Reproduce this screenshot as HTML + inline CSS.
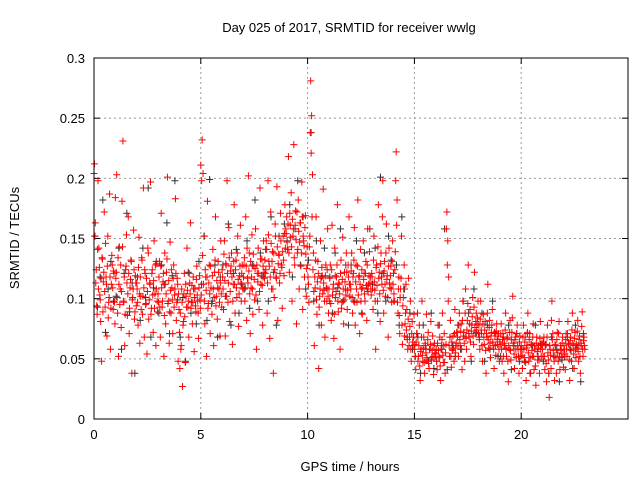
<!DOCTYPE html>
<html><head><meta charset="utf-8"><style>
body{margin:0;background:#fff}
svg{display:block;font-family:"Liberation Sans",sans-serif}
</style></head><body>
<svg id="chart" width="640" height="480">
<text x="349" y="32" font-size="13" text-anchor="middle">Day 025 of 2017, SRMTID for receiver wwlg</text>
<text x="350" y="471" font-size="13" text-anchor="middle">GPS time / hours</text>
<text x="19" y="238" font-size="13" text-anchor="middle" transform="rotate(-90 19 238)">SRMTID / TECUs</text>
<g id="grid"></g><g id="ticks"></g><g id="black"></g><g id="red"></g>
<rect x="94" y="58" width="534" height="361" fill="none" stroke="#000" stroke-width="1"/>
</svg>
<script>
const xTicks=[0,5,10,15,20];
const yTicks=[0,0.05,0.1,0.15,0.2,0.25,0.3];
const yTickLabels=["0","0.05","0.1","0.15","0.2","0.25","0.3"];
const redByHour=[
[.212,.163,.124,.087,.198,.142,.103,.081,.048,.133,.114,.172,.093,.118,.069,.152,.097,.187,.058,.112,.128,.091,.121,.079],
[.117,.203,.088,.052,.143,.108,.076,.181,.231,.097,.061,.124,.153,.086,.168,.071,.109,.132,.038,.101,.157,.083,.119,.094],
[.108,.078,.151,.063,.102,.134,.087,.192,.068,.121,.096,.054,.142,.083,.113,.197,.092,.124,.072,.148,.104,.061,.129,.089],
[.097,.131,.068,.171,.093,.114,.052,.138,.079,.122,.201,.098,.063,.147,.088,.109,.071,.128,.103,.183,.082,.117,.048,.091],
[.042,.058,.108,.027,.081,.121,.047,.102,.142,.093,.068,.113,.163,.097,.079,.118,.056,.108,.089,.127,.098,.067,.119,.092],
[.103,.232,.204,.152,.079,.118,.052,.181,.096,.128,.071,.109,.087,.141,.061,.122,.168,.102,.083,.131,.108,.069,.148,.093],
[.118,.091,.148,.069,.128,.198,.097,.159,.081,.123,.138,.062,.112,.178,.088,.132,.101,.152,.077,.119,.161,.098,.128,.108],
[.128,.098,.168,.082,.117,.202,.138,.071,.109,.153,.087,.127,.099,.158,.058,.121,.142,.091,.192,.112,.133,.078,.148,.117],
[.121,.148,.088,.198,.131,.067,.172,.108,.139,.038,.101,.162,.118,.193,.082,.137,.113,.171,.128,.092,.152,.119,.178,.158],
[.168,.141,.218,.122,.161,.188,.098,.152,.228,.128,.173,.079,.138,.182,.108,.163,.127,.197,.091,.148,.118,.169,.102,.143],
[.118,.097,.152,.281,.252,.203,.138,.061,.109,.168,.087,.131,.042,.102,.148,.078,.119,.191,.107,.068,.128,.098,.158,.088],
[.098,.128,.082,.161,.108,.067,.142,.101,.118,.178,.089,.112,.058,.132,.097,.151,.079,.122,.108,.138,.091,.128,.168,.102],
[.108,.138,.088,.121,.159,.078,.128,.097,.182,.118,.071,.141,.108,.087,.148,.121,.098,.131,.082,.158,.112,.139,.118,.103],
[.118,.091,.152,.107,.058,.128,.098,.178,.122,.081,.138,.112,.198,.088,.131,.102,.162,.119,.068,.142,.109,.127,.097,.148],
[.121,.098,.139,.222,.182,.088,.118,.071,.108,.152,.062,.101,.128,.079,.112,.091,.058,.117,.068,.098,.048,.081,.061,.087],
[.062,.041,.071,.088,.052,.078,.032,.058,.098,.048,.068,.038,.061,.087,.049,.072,.042,.058,.081,.051,.069,.037,.063,.052],
[.058,.041,.078,.052,.068,.032,.061,.088,.047,.071,.038,.062,.172,.148,.118,.052,.082,.043,.058,.069,.048,.091,.061,.072],
[.068,.052,.088,.061,.079,.041,.098,.072,.048,.108,.058,.082,.128,.068,.091,.052,.078,.101,.062,.122,.071,.088,.079,.098],
[.078,.058,.098,.071,.048,.087,.062,.081,.038,.068,.112,.059,.082,.051,.072,.091,.061,.042,.069,.053,.079,.062,.071,.048],
[.062,.079,.048,.071,.038,.061,.088,.052,.068,.031,.058,.082,.049,.072,.102,.061,.042,.068,.051,.078,.058,.038,.069,.052],
[.058,.042,.078,.051,.068,.032,.061,.088,.048,.071,.038,.062,.052,.079,.041,.058,.028,.068,.049,.061,.038,.081,.052,.063],
[.052,.068,.041,.062,.031,.078,.049,.018,.058,.042,.098,.071,.052,.032,.061,.038,.072,.048,.081,.041,.058,.051,.068,.043],
[.058,.041,.071,.052,.081,.062,.032,.068,.048,.088,.061,.042,.072,.051,.059,.082,.048,.069,.038,.061,.089,.052,.068,.058]
];
const redByHourB=[
[.204,.152,.113,.094,.141,.108,.126,.099,.117,.134,.089,.122,.106,.146,.112,.127,.084,.101,.118,.092,.136,.109,.123,.097],
[.184,.122,.101,.134,.112,.095,.128,.106,.143,.098,.118,.087,.127,.113,.104,.121,.092,.116,.131,.099,.108,.124,.089,.113],
[.113,.097,.126,.104,.118,.091,.132,.102,.109,.124,.095,.117,.106,.138,.099,.112,.087,.121,.103,.115,.092,.128,.108,.098],
[.104,.118,.093,.127,.109,.098,.121,.086,.112,.104,.133,.096,.115,.089,.107,.124,.099,.117,.093,.108,.121,.097,.112,.104],
[.072,.088,.061,.097,.078,.104,.085,.112,.093,.107,.098,.121,.104,.092,.111,.097,.108,.101,.094,.116,.103,.088,.109,.099],
[.211,.198,.136,.112,.098,.124,.107,.118,.092,.113,.104,.127,.096,.119,.108,.101,.132,.094,.115,.109,.122,.097,.113,.104],
[.124,.108,.137,.115,.129,.102,.121,.113,.134,.106,.127,.118,.098,.131,.112,.124,.109,.138,.116,.104,.127,.113,.121,.109],
[.118,.134,.109,.127,.142,.113,.123,.104,.131,.118,.108,.137,.116,.125,.103,.128,.114,.121,.106,.133,.119,.111,.127,.122],
[.132,.124,.141,.113,.153,.127,.118,.146,.131,.108,.138,.124,.152,.117,.143,.129,.136,.121,.148,.126,.139,.132,.154,.142],
[.154,.147,.162,.138,.171,.151,.143,.166,.158,.134,.161,.149,.172,.141,.156,.147,.163,.138,.168,.152,.144,.159,.137,.125],
[.128,.112,.143,.238,.221,.168,.124,.106,.118,.132,.099,.114,.121,.093,.108,.117,.126,.104,.113,.098,.119,.109,.124,.102],
[.108,.117,.096,.124,.103,.112,.087,.119,.106,.128,.098,.113,.104,.121,.092,.116,.108,.099,.114,.103,.122,.107,.118,.112],
[.112,.123,.101,.118,.132,.097,.114,.108,.127,.103,.119,.112,.098,.124,.109,.116,.104,.121,.111,.128,.106,.119,.113,.108],
[.121,.108,.132,.114,.098,.126,.111,.143,.117,.104,.129,.118,.168,.107,.123,.112,.138,.116,.101,.127,.113,.119,.108,.131],
[.112,.104,.124,.198,.161,.097,.108,.086,.101,.117,.078,.094,.108,.069,.088,.074,.066,.083,.061,.077,.058,.071,.064,.068],
[.058,.052,.064,.071,.048,.061,.044,.056,.068,.053,.059,.047,.063,.055,.051,.066,.046,.058,.062,.049,.057,.052,.061,.055],
[.054,.048,.063,.057,.051,.044,.058,.066,.053,.061,.047,.055,.158,.128,.098,.061,.068,.052,.064,.057,.059,.071,.055,.063],
[.072,.061,.078,.066,.073,.058,.082,.069,.063,.088,.067,.074,.096,.071,.079,.064,.073,.085,.069,.093,.076,.081,.074,.084],
[.071,.066,.083,.074,.061,.079,.068,.074,.057,.071,.088,.066,.076,.063,.069,.078,.064,.058,.072,.061,.073,.066,.069,.058],
[.064,.071,.058,.066,.052,.063,.074,.059,.067,.048,.061,.072,.057,.066,.084,.063,.054,.066,.058,.071,.061,.052,.064,.058],
[.061,.053,.068,.058,.064,.047,.059,.072,.055,.066,.051,.062,.057,.068,.052,.061,.044,.063,.056,.059,.049,.067,.058,.062],
[.058,.064,.052,.061,.046,.068,.055,.038,.061,.053,.082,.066,.057,.048,.062,.051,.066,.055,.071,.052,.061,.057,.063,.054],
[.061,.054,.066,.058,.071,.063,.049,.065,.057,.074,.063,.054,.067,.058,.062,.073,.056,.066,.052,.063,.077,.058,.065,.061]
];
const blackByHour=[
[.152,.093,.118,.182,.072,.108,.131,.098],[.102,.142,.058,.121,.171,.089,.113,.038],[.118,.082,.142,.101,.192,.068,.109,.131],
[.088,.128,.112,.163,.071,.119,.198,.099],[.068,.101,.048,.122,.088,.108,.079,.131],[.112,.152,.082,.199,.098,.128,.068,.118],
[.128,.102,.162,.078,.121,.141,.088,.112],[.108,.148,.092,.128,.182,.098,.138,.118],[.141,.098,.168,.122,.078,.152,.128,.162],
[.148,.178,.118,.158,.198,.128,.168,.108],[.132,.238,.098,.148,.078,.118,.142,.108],[.118,.088,.138,.109,.158,.098,.128,.078],
[.128,.098,.148,.118,.088,.138,.108,.158],[.112,.142,.088,.201,.121,.098,.152,.132],[.098,.128,.078,.168,.108,.068,.088,.058],
[.052,.068,.038,.078,.058,.048,.088,.042],[.048,.078,.058,.158,.041,.068,.061,.052],[.078,.058,.098,.068,.088,.048,.108,.072],
[.068,.088,.048,.078,.058,.098,.071,.052],[.052,.068,.058,.078,.041,.061,.071,.048],[.058,.048,.071,.038,.061,.078,.052,.062],
[.048,.062,.038,.068,.052,.058,.031,.049],[.052,.068,.058,.042,.078,.061,.031,.071]
];
const NS="http://www.w3.org/2000/svg";
const x0=94,x1=628,y0=419,y1=58,xMax=25,yMax=0.3;
function sx(v){return x0+(x1-x0)*v/xMax;}
function sy(v){return y0-(y0-y1)*v/yMax;}
function mk(tag,attrs,parent){const e=document.createElementNS(NS,tag);for(const k in attrs)e.setAttribute(k,attrs[k]);parent.appendChild(e);return e;}
const grid=document.getElementById('grid'),ticks=document.getElementById('ticks');
xTicks.forEach((t,i)=>{
  const X=sx(t);
  if(t>0){const g=mk('line',{x1:X,x2:X,y1:y0,y2:y1,stroke:'#999','stroke-dasharray':'2,3'},grid);
  
  }
  mk('line',{x1:X,x2:X,y1:y0,y2:y0-6,stroke:'#000'},ticks);
  mk('line',{x1:X,x2:X,y1:y1,y2:y1+6,stroke:'#000'},ticks);
  const l=mk('text',{x:X,y:y0+20,'font-size':13,'text-anchor':'middle'},ticks);l.textContent=t;
  
  
});
yTicks.forEach((t,i)=>{
  const Y=sy(t);
  if(t>0&&t<yMax){const g=mk('line',{x1:x0,x2:x1,y1:Y,y2:Y,stroke:'#999','stroke-dasharray':'2,3'},grid);
  
  }
  mk('line',{x1:x0,x2:x0+6,y1:Y,y2:Y,stroke:'#000'},ticks);
  mk('line',{x1:x1,x2:x1-6,y1:Y,y2:Y,stroke:'#000'},ticks);
  const l=mk('text',{x:x0-9,y:Y+5,'font-size':13,'text-anchor':'end'},ticks);l.textContent=yTickLabels[i];
  
  
});
function plot(data,gid,color,name,off){
  const g=document.getElementById(gid);
  data.forEach((vals,h)=>{vals.forEach((v,i)=>{
    const t=h+(i+off)/vals.length;const X=sx(t),Y=sy(v);
    const p=mk('path',{d:`M${X-3.5},${Y}h7M${X},${Y-3.5}v7`,stroke:color,'stroke-width':1,fill:'none'},g);
    
    
  });});
}
plot(blackByHour,'black','#333','black-point',0.3);
plot(redByHour,'red','#f00','red-point',0.5);
plot(redByHourB,'red','#f00','red-point',0.0);
</script>
</body></html>
